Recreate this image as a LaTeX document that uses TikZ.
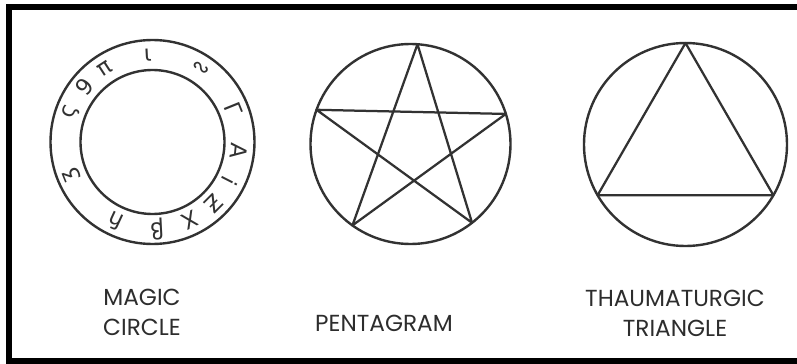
\documentclass[tikz,border=0pt]{standalone}
\usepackage{fontspec}
\setmainfont{Poppins}
\newfontfamily\glyphfont{DejaVu Sans}
\usetikzlibrary{calc}
\definecolor{xink}{RGB}{50,50,50}
\definecolor{xlabel}{RGB}{45,45,45}

\begin{document}
\begin{tikzpicture}[x=0.025cm, y=0.025cm,
  ring/.style={draw=xink, line width=1.7pt},
  figline/.style={draw=xink, line width=1.6pt, line join=round},
  caption/.style={font=\fontsize{16.5}{21.3}\selectfont, text=xlabel,
                  align=center, inner sep=0pt},
  glyph/.style={font=\glyphfont\fontsize{16}{16}\selectfont, text=xink,
                inner sep=0pt}
]
  \useasboundingbox (0,0) rectangle (797,363);
  \fill[white] (0,0) rectangle (797,363);
  % frame, open on the right
  \draw[line width=0.15cm] (797,356) -- (9,356) -- (9,2) -- (797,2);

  % magic circle
  \coordinate (magic) at (152.5,221);
  \draw[ring] (magic) circle[radius=102];
  \draw[ring] (magic) circle[radius=72];
  \foreach \ang/\sym in {93/{ι}, 123/{π}, 141/{9}, 160/{ς}, 202/{ʒ},
                         245/{ɦ}, 273/{β}, 296/{X}, 315/{Ƶ}, 333/{i},
                         354/{A}, 22/{Γ}, 57/{∾}}
    \node[glyph, rotate=\ang-90] (g\ang) at ($(magic)+(\ang:87)$) {\sym};

  % pentagram
  \coordinate (penta) at (410.5,219);
  \draw[ring] (penta) circle[radius=100];
  \foreach \ang [count=\i] in {86,160,234.5,308,17.5}
    \coordinate (p\i) at ($(penta)+(\ang:100)$);
  \draw[figline] (p1) -- (p3) -- (p5) -- (p2) -- (p4) -- cycle;

  % thaumaturgic triangle
  \coordinate (thaum) at (685.5,218.5);
  \draw[ring] (thaum) circle[radius=101.5];
  \foreach \ang [count=\i] in {90,210,330}
    \coordinate (t\i) at ($(thaum)+(\ang:101.5)$);
  \draw[figline] (t1) -- (t2) -- (t3) -- cycle;

  % captions
  \node[caption] (magiclabel) at (142,50.5) {MAGIC\\CIRCLE};
  \node[caption] (pentalabel) at (384,40) {PENTAGRAM};
  \node[caption] (thaumlabel) at (675,50) {THAUMATURGIC\\TRIANGLE};
\end{tikzpicture}
\end{document}
